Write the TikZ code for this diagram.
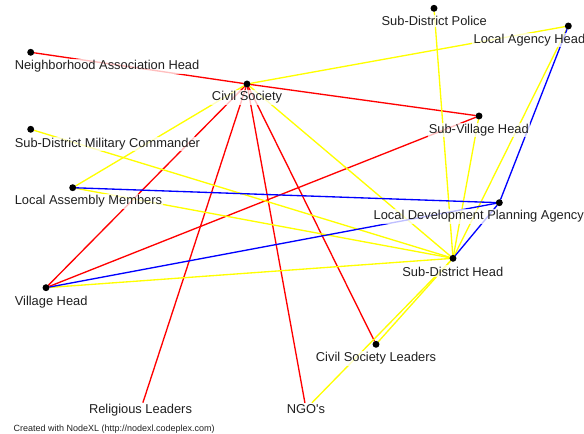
\documentclass[tikz,border=0pt]{standalone}
\usepackage{fontspec}
\setsansfont{Liberation Sans}
\usetikzlibrary{positioning}
\definecolor{netInk}{HTML}{202020}
\definecolor{netRed}{HTML}{FF0000}
\definecolor{netYellow}{HTML}{FFFF00}
\definecolor{netBlue}{HTML}{0000FF}
\pgfdeclarelayer{ties}
\pgfsetlayers{ties,main}
\tikzset{
  every picture/.style={font=\sffamily\fontsize{9.65}{11}\selectfont, text=netInk},
  net dot/.style={circle, fill=black, inner sep=0pt, minimum size=5.2pt},
  net label/.style={fill=white, fill opacity=0.75, text opacity=1, inner sep=1pt},
  net tie/.style={line width=1pt, line cap=round},
  tie red/.style={net tie, draw=netRed},
  tie yellow/.style={net tie, draw=netYellow},
  tie blue/.style={net tie, draw=netBlue}
}

\begin{document}
\begin{tikzpicture}[x=0.75pt,y=-0.75pt]
  \useasboundingbox (0,0) rectangle (584,434);
  \node[net dot] (nah) at (30.7,52.3) {};
  \node[net dot] (cs) at (247,84) {};
  \node[net dot] (sdmc) at (30.7,129.3) {};
  \node[net dot] (lam) at (72.7,187.7) {};
  \node[net dot] (sdp) at (434,8.3) {};
  \node[net dot] (lah) at (568.3,26) {};
  \node[net dot] (svh) at (479,116) {};
  \node[net dot] (ldpa) at (499.3,202.7) {};
  \node[net dot] (sdh) at (453,258.3) {};
  \node[net dot] (vh) at (46,287.7) {};
  \node[net dot] (csl) at (376,344.3) {};

  \node[net label, anchor=base west] (nah label) at (13.2,70) {Neighborhood Association Head};
  \node[net label, anchor=base] (cs label) at (247,101) {Civil Society};
  \node[net label, anchor=base west] (sdmc label) at (13.2,147.3) {Sub-District Military Commander};
  \node[net label, anchor=base west] (lam label) at (13.2,205) {Local Assembly Members};
  \node[net label, anchor=base] (sdp label) at (434.2,26) {Sub-District Police};
  \node[net label, anchor=base west] (lah label) at (472,43.3) {Local Agency Head};
  \node[net label, anchor=base] (svh label) at (478.8,133.3) {Sub-Village Head};
  \node[net label, anchor=base west] (ldpa label) at (372,219.8) {Local Development Planning Agency};
  \node[net label, anchor=base] (sdh label) at (452.8,276) {Sub-District Head};
  \node[net label, anchor=base west] (vh label) at (13.2,305.7) {Village Head};
  \node[net label, anchor=base] (csl label) at (376,361.7) {Civil Society Leaders};
  \node[net label, anchor=base] (rl) at (140.5,413.3) {Religious Leaders};
  \node[net label, anchor=base] (ngo) at (306,413.3) {NGO\textquotesingle s};
  \node[anchor=base west, inner sep=0pt, font=\sffamily\fontsize{6.75}{8}\selectfont]
    (credit) at (13.3,431.5) {Created with NodeXL (http://nodexl.codeplex.com)};

  \begin{pgfonlayer}{ties}
    \foreach \a/\b in {nah/cs, cs/svh, cs/vh, cs/rl, cs/ngo, cs/csl, svh/vh}
      \draw[tie red] (\a) -- (\b);
    \foreach \a/\b in {cs/lah, cs/lam, cs/sdh, sdmc/sdh, lam/sdh, vh/sdh, sdp/sdh,
                       svh/sdh, lah/sdh, sdh/csl, sdh/ngo}
      \draw[tie yellow] (\a) -- (\b);
    \foreach \a/\b in {lam/ldpa, vh/ldpa, lah/ldpa, ldpa/sdh}
      \draw[tie blue] (\a) -- (\b);
  \end{pgfonlayer}
\end{tikzpicture}
\end{document}
